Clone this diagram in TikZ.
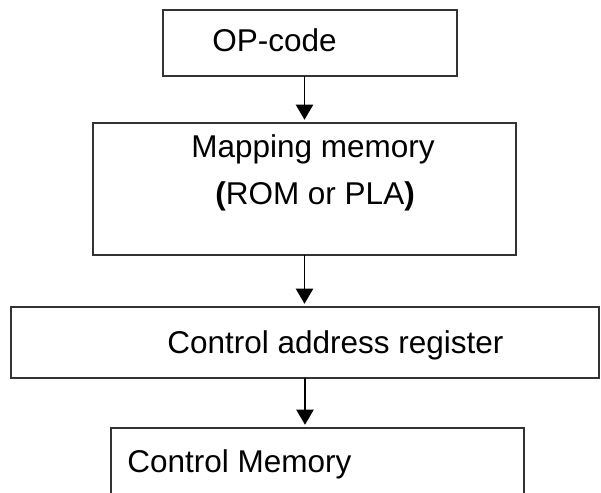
\documentclass[tikz,border=0pt]{standalone}
\usepackage{fontspec}
\setmainfont{Liberation Sans}
\usepackage{xcolor}
\usetikzlibrary{arrows.meta,positioning,calc}
\definecolor{boxline}{HTML}{333333}

\begin{document}
\begin{tikzpicture}[
 x=0.025cm,y=-0.025cm,
 font=\fontsize{22.4pt}{27pt}\selectfont,
 block/.style={draw=boxline,line width=0.9pt,inner sep=0pt,outer sep=0pt},
 txt/.style={anchor=base west,inner sep=0pt},
 arr/.style={-{Triangle[width=0.43cm,length=0.38cm]},line width=1.4pt,draw=black,shorten >=0.08cm}
]
\clip (0,0) rectangle (601,493);

\node[block,minimum width=7.35cm,minimum height=1.65cm] (opcode) at (310,43) {};
\node[txt] (opcodetxt) at (212,52) {OP-code};

\node[block,minimum width=10.575cm,minimum height=3.3cm] (mapping) at (304.5,189) {};
\node[txt] (maptxt) at (191,157) {Mapping memory};
\node[txt] (romtxt) at (215,204) {\textbf{(}ROM or PLA\textbf{)}};

\node[block,minimum width=14.7cm,minimum height=1.775cm] (car) at (305,342.5) {};
\node[txt] (cartxt) at (167,353) {Control address register};

% bottom edge runs off the page
\node[block,minimum width=10.325cm,minimum height=2.8cm] (ctrlmem) at (317.5,484) {};
\node[txt] (ctrlmemtxt) at (127,472) {Control Memory};

\draw[arr] (opcode.south -| mapping.north) -- (mapping.north);
\draw[arr] (mapping.south) -- (mapping.south |- car.north);
\draw[arr] (car.south) -- (car.south |- ctrlmem.north);
\end{tikzpicture}
\end{document}
